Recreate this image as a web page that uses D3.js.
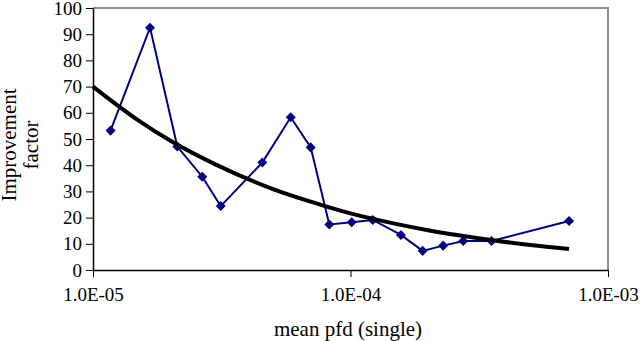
<!DOCTYPE html>
<html>
<head>
<meta charset="utf-8">
<script src="https://cdn.jsdelivr.net/npm/d3@7"></script>
<style>
  body { margin: 0; background: #fff; }
</style>
</head>
<body>
<div id="chart"></div>
<script>
// measured points (mean pfd, improvement factor)
const pfd = [1.17e-5, 1.665e-5, 2.125e-5, 2.657e-5, 3.133e-5, 4.544e-5, 5.859e-5, 7.005e-5,
  8.275e-5, 1.011e-4, 1.22e-4, 1.57e-4, 1.906e-4, 2.29e-4, 2.74e-4, 3.53e-4, 7.06e-4];
const improvement = [53.2, 92.5, 47.1, 35.6, 24.4, 41.0, 58.3, 46.8,
  17.4, 18.2, 19.1, 13.4, 7.3, 9.3, 11.1, 11.1, 18.7];

// trend line
const trendX = [1e-5, 1.5e-5, 2e-5, 3e-5, 5e-5, 7e-5, 1e-4, 1.5e-4, 2e-4, 3e-4, 5e-4, 7.06e-4];
const trendY = [70, 57.1, 49.3, 40.2, 30.9, 26.1, 21.6, 17.6, 15.2, 12.4, 9.5, 8.0];

const xTicks = [1e-5, 1e-4, 1e-3];
const xTickLabels = ["1.0E-05", "1.0E-04", "1.0E-03"];
const yTicks = [0, 10, 20, 30, 40, 50, 60, 70, 80, 90, 100];

const serif = "Liberation Serif";
const width = 640, height = 341;
const margin = {top: 8, right: 32, bottom: 71, left: 93};
const w = width - margin.left - margin.right;
const h = height - margin.top - margin.bottom;

const svg = d3.select("#chart").append("svg")
  .attr("width", width)
  .attr("height", height);

const xScale = d3.scaleLog().domain([1e-5, 1e-3]).range([0, w]);
const yScale = d3.scaleLinear().domain([0, 100]).range([h, 0]);

const g = svg.append("g")
  .attr("transform", "translate(" + margin.left + "," + margin.top + ")");

// plot area frame: grey top/right
g.append("path")
  .attr("d", "M0,0H" + w + "V" + h)
  .attr("fill", "none")
  .attr("stroke", "#8c8c8c")
  .attr("stroke-width", 2);

const yAxis = g.append("g")
  .call(d3.axisLeft(yScale).tickValues(yTicks).tickSize(7).tickPadding(4).tickSizeOuter(0));
yAxis.select(".domain").attr("stroke", "#000").attr("stroke-width", 1.5);
yAxis.selectAll(".tick line").attr("stroke", "#000");
yAxis.selectAll("text")
  .attr("fill", "#000")
  .attr("font-family", serif)
  .attr("font-size", 19);

const xAxis = g.append("g")
  .attr("transform", "translate(0," + h + ")")
  .call(d3.axisBottom(xScale).tickValues(xTicks)
    .tickFormat((d, i) => xTickLabels[i]).tickSize(7).tickPadding(11).tickSizeOuter(0));
xAxis.select(".domain").attr("stroke", "#000").attr("stroke-width", 1.5);
xAxis.selectAll(".tick line").attr("stroke", "#000");
xAxis.selectAll("text")
  .attr("fill", "#000")
  .attr("font-family", serif)
  .attr("font-size", 19);

const data = pfd.map((x, i) => ({x: x, y: improvement[i]}));
const trend = trendX.map((x, i) => ({x: x, y: trendY[i]}));

const line = d3.line()
  .x(function (d) { return xScale(d.x); })
  .y(function (d) { return yScale(d.y); });

g.append("path")
  .datum(data)
  .attr("d", line)
  .attr("fill", "none")
  .attr("stroke", "#000080")
  .attr("stroke-width", 2);

g.selectAll(".pt")
  .data(data)
  .enter().append("path")
  .attr("class", "pt")
  .attr("d", d3.symbol().type(d3.symbolDiamond2).size(64))
  .attr("transform", function (d) { return "translate(" + xScale(d.x) + "," + yScale(d.y) + ")"; })
  .attr("fill", "#000080");

g.append("path")
  .datum(trend)
  .attr("d", line.curve(d3.curveMonotoneX))
  .attr("fill", "none")
  .attr("stroke", "#000")
  .attr("stroke-width", 4);

// axis titles
svg.append("text")
  .attr("x", 348)
  .attr("y", 336)
  .attr("text-anchor", "middle")
  .attr("font-family", serif)
  .attr("font-size", 21)
  .text("mean pfd (single)");

const yTitle = svg.append("text")
  .attr("transform", "translate(0,145) rotate(-90)")
  .attr("text-anchor", "middle")
  .attr("font-family", serif)
  .attr("font-size", 21);
yTitle.append("tspan").attr("x", 0).attr("y", 16).text("Improvement");
yTitle.append("tspan").attr("x", 0).attr("y", 38).text("factor");
</script>
</body>
</html>
